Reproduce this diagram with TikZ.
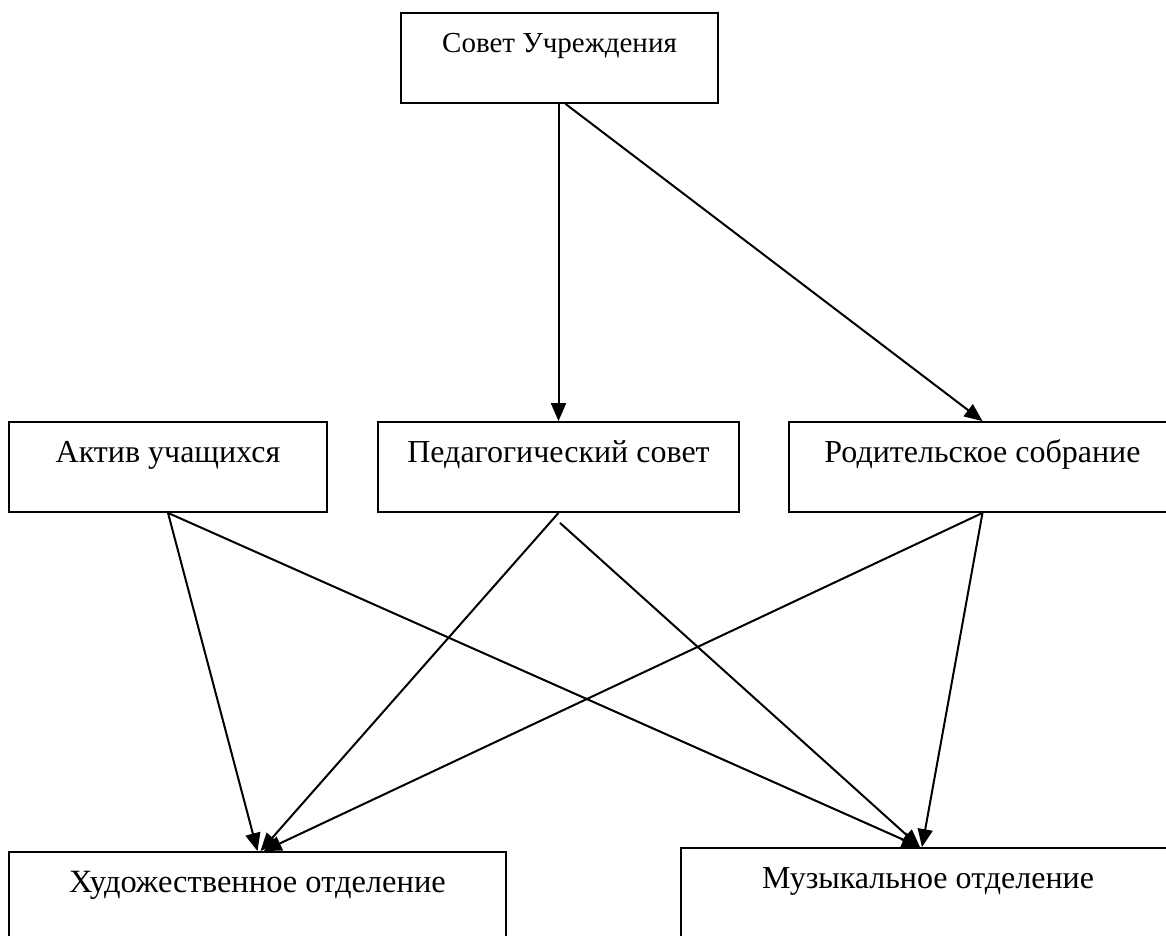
\documentclass[tikz,border=0pt]{standalone}
\usepackage{fontspec}
\setmainfont{Liberation Serif}
\usetikzlibrary{arrows.meta}
\tikzset{
  box/.style={draw=black, line width=1.8pt, rectangle, inner sep=0pt,
    text height=40pt, text depth=50pt, minimum height=90pt,
    font=\fontsize{32}{38}\selectfont},
  conn/.style={draw=black, line width=2pt, -{Triangle[length=18pt,width=15pt]}}
}
\begin{document}
\begin{tikzpicture}[x=1pt,y=-1pt]
\useasboundingbox (0,0) rectangle (1166,935);
\clip (0,0) rectangle (1166,935);
\node[box, minimum width=317pt, text height=39pt, text depth=51pt,
      font=\fontsize{29}{35}\selectfont] (sovet) at (559.5,58) {Совет Учреждения};
\node[box, minimum width=318pt] (aktiv) at (168,467) {Актив учащихся};
\node[box, minimum width=361pt] (ped) at (558.5,467) {Педагогический совет};
\node[box, minimum width=387pt] (rod) at (982.5,467) {Родительское собрание};
\node[box, minimum width=497pt, font=\fontsize{32.5}{38}\selectfont] (art) at (257.5,897) {Художественное отделение};
\node[box, minimum width=494pt] (mus) at (928,893) {Музыкальное отделение};
\draw[conn] (sovet.south -| ped.north) -- (ped.north);
\draw[conn] ([xshift=6pt]sovet.south) -- (rod.north);
\draw[conn] (aktiv.south) -- (art.north);
\draw[conn] (aktiv.south) -- ([xshift=-8pt]mus.north);
\draw[conn] (ped.south) -- ([xshift=3pt]art.north);
\draw[conn] ([xshift=1.5pt,yshift=-10pt]ped.south) -- ([xshift=-8pt]mus.north);
\draw[conn] (rod.south) -- ([xshift=6pt]art.north);
\draw[conn] (rod.south) -- ([xshift=-6pt]mus.north);
\end{tikzpicture}
\end{document}
